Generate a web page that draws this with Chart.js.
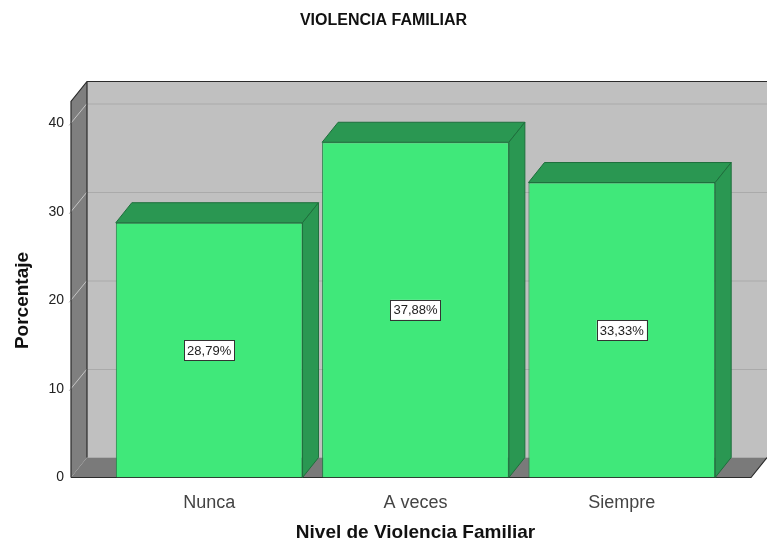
<!DOCTYPE html>
<html>
<head>
<meta charset="utf-8">
<script src="https://cdn.jsdelivr.net/npm/chart.js@4"></script>
<style>
  body { margin: 0; background: #fff; }
  #wrap { width: 767px; height: 546px; }
</style>
</head>
<body>
<div id="wrap"><canvas id="myChart"></canvas></div>
<script>
/* data */
const categories = ['Nunca', 'A veces', 'Siempre'];
const percentages = [28.79, 37.88, 33.33];
const yTicks = [0, 10, 20, 30, 40];

// 3d look (spss style)
const dx = 16, dy = -20;

const box3d = {
  id: 'box3d',
  beforeDatasetsDraw(chart) {
    const ctx = chart.ctx;
    const ca = chart.chartArea;
    const y = chart.scales.y;
    const x0 = ca.left - 35, x1 = ca.right + 26;
    const base = y.getPixelForValue(0);
    const top = ca.top - 22;
    ctx.save();
    // back wall
    ctx.fillStyle = '#c0c0c0';
    ctx.fillRect(x0 + dx, top + dy, x1 - x0, base - top);
    // grid lines
    yTicks.forEach(function(v) {
      const py = y.getPixelForValue(v);
      if (v > 0) {
        ctx.strokeStyle = '#aaaaaa';
        ctx.lineWidth = 1;
        ctx.beginPath();
        ctx.moveTo(x0 + dx, py + dy + 0.5);
        ctx.lineTo(x1 + dx, py + dy + 0.5);
        ctx.stroke();
      }
    });
    // side wall
    ctx.fillStyle = '#7f7f7f';
    ctx.beginPath();
    ctx.moveTo(x0, top);
    ctx.lineTo(x0 + dx, top + dy);
    ctx.lineTo(x0 + dx, base + dy);
    ctx.lineTo(x0, base);
    ctx.closePath();
    ctx.fill();
    // floor
    ctx.fillStyle = '#7a7a7a';
    ctx.beginPath();
    ctx.moveTo(x0, base);
    ctx.lineTo(x0 + dx, base + dy);
    ctx.lineTo(x1 + dx, base + dy);
    ctx.lineTo(x1, base);
    ctx.closePath();
    ctx.fill();
    // side wall grid lines
    ctx.strokeStyle = '#c4c4c4';
    yTicks.forEach(function(v) {
      if (v == 0) return;
      const py = y.getPixelForValue(v);
      ctx.beginPath();
      ctx.moveTo(x0 - 2, py + 2);
      ctx.lineTo(x0 + dx, py + dy);
      ctx.stroke();
    });
    // edges
    ctx.strokeStyle = '#2b2b2b';
    ctx.lineWidth = 1.2;
    ctx.beginPath();
    ctx.moveTo(x0, base);
    ctx.lineTo(x0, top);
    ctx.lineTo(x0 + dx, top + dy);
    ctx.lineTo(x1 + dx, top + dy);
    ctx.moveTo(x0 + dx, top + dy);
    ctx.lineTo(x0 + dx, base + dy);
    ctx.moveTo(x0, base);
    ctx.lineTo(x1, base);
    ctx.lineTo(x1 + dx, base + dy);
    ctx.stroke();
    ctx.restore();
  },
  afterDatasetsDraw(chart) {
    const ctx = chart.ctx;
    const y = chart.scales.y;
    const meta = chart.getDatasetMeta(0);
    ctx.save();
    meta.data.forEach(function(bar, i) {
      const l = bar.x - bar.width / 2, r = bar.x + bar.width / 2;
      const t = bar.y, b = bar.base;
      ctx.fillStyle = '#2a9752';
      ctx.strokeStyle = '#1e6f3c';
      ctx.lineWidth = 1;
      // top
      ctx.beginPath();
      ctx.moveTo(l, t);
      ctx.lineTo(l + dx, t + dy);
      ctx.lineTo(r + dx, t + dy);
      ctx.lineTo(r, t);
      ctx.closePath();
      ctx.fill();
      ctx.stroke();
      // side
      ctx.beginPath();
      ctx.moveTo(r, t);
      ctx.lineTo(r + dx, t + dy);
      ctx.lineTo(r + dx, b + dy);
      ctx.lineTo(r, b);
      ctx.closePath();
      ctx.fill();
      ctx.stroke();
    });
    // value labels
    ctx.font = '13px "Liberation Sans", Arial, sans-serif';
    ctx.textAlign = 'center';
    ctx.textBaseline = 'middle';
    meta.data.forEach(function(bar, i) {
      const txt = percentages[i].toFixed(2).replace('.', ',') + '%';
      const cy = y.getPixelForValue(percentages[i] / 2);
      const w = ctx.measureText(txt).width + 6, h = 20;
      ctx.fillStyle = '#ffffff';
      ctx.fillRect(bar.x - w / 2, cy - h / 2, w, h);
      ctx.strokeStyle = '#333333';
      ctx.lineWidth = 1;
      ctx.strokeRect(Math.round(bar.x - w / 2) + 0.5, Math.round(cy - h / 2) + 0.5, Math.round(w), h);
      ctx.fillStyle = '#222222';
      ctx.fillText(txt, bar.x, cy + 1);
    });
    ctx.restore();
  }
};

const ctx = document.getElementById('myChart').getContext('2d');
const chart = new Chart(ctx, {
  type: 'bar',
  data: {
    labels: categories,
    datasets: [{
      label: 'Porcentaje',
      data: percentages,
      backgroundColor: '#40e87a',
      borderColor: '#1f7a42',
      borderWidth: 1,
      barPercentage: 0.905,
      categoryPercentage: 1
    }]
  },
  options: {
    responsive: true,
    maintainAspectRatio: false,
    animation: false,
    layout: { padding: 0 },
    font: { family: '"Liberation Sans", Arial, sans-serif' },
    plugins: {
      legend: { display: false },
      tooltip: { enabled: false },
      title: {
        display: true,
        text: 'VIOLENCIA FAMILIAR',
        color: '#111',
        font: { family: '"Liberation Sans", Arial, sans-serif', size: 16, weight: 'bold' },
        padding: { top: 11, bottom: 93.3 }
      }
    },
    scales: {
      x: {
        grid: { display: false },
        border: { display: false },
        ticks: {
          color: '#444',
          padding: 7,
          font: { family: '"Liberation Sans", Arial, sans-serif', size: 18 }
        },
        title: {
          display: true,
          text: 'Nivel de Violencia Familiar',
          color: '#111',
          font: { family: '"Liberation Sans", Arial, sans-serif', size: 19, weight: 'bold' },
          padding: { top: 0, bottom: 2 }
        },
        afterFit: function(s) { s.height = 68.5; }
      },
      y: {
        min: 0,
        max: 40,
        grid: { display: false, drawTicks: false },
        border: { display: false },
        ticks: {
          stepSize: 10,
          color: '#222',
          padding: 42,
          font: { family: '"Liberation Sans", Arial, sans-serif', size: 14 }
        },
        title: {
          display: true,
          text: 'Porcentaje',
          color: '#111',
          font: { family: '"Liberation Sans", Arial, sans-serif', size: 19, weight: 'bold' },
          padding: { top: 11, bottom: 0 }
        },
        afterFit: function(s) { s.width = 106; }
      },
      yR: {
        type: 'linear',
        position: 'right',
        display: true,
        grid: { display: false },
        border: { display: false },
        ticks: { display: false },
        afterFit: function(s) { s.width = 42; }
      }
    }
  },
  plugins: [box3d]
});
</script>
</body>
</html>
